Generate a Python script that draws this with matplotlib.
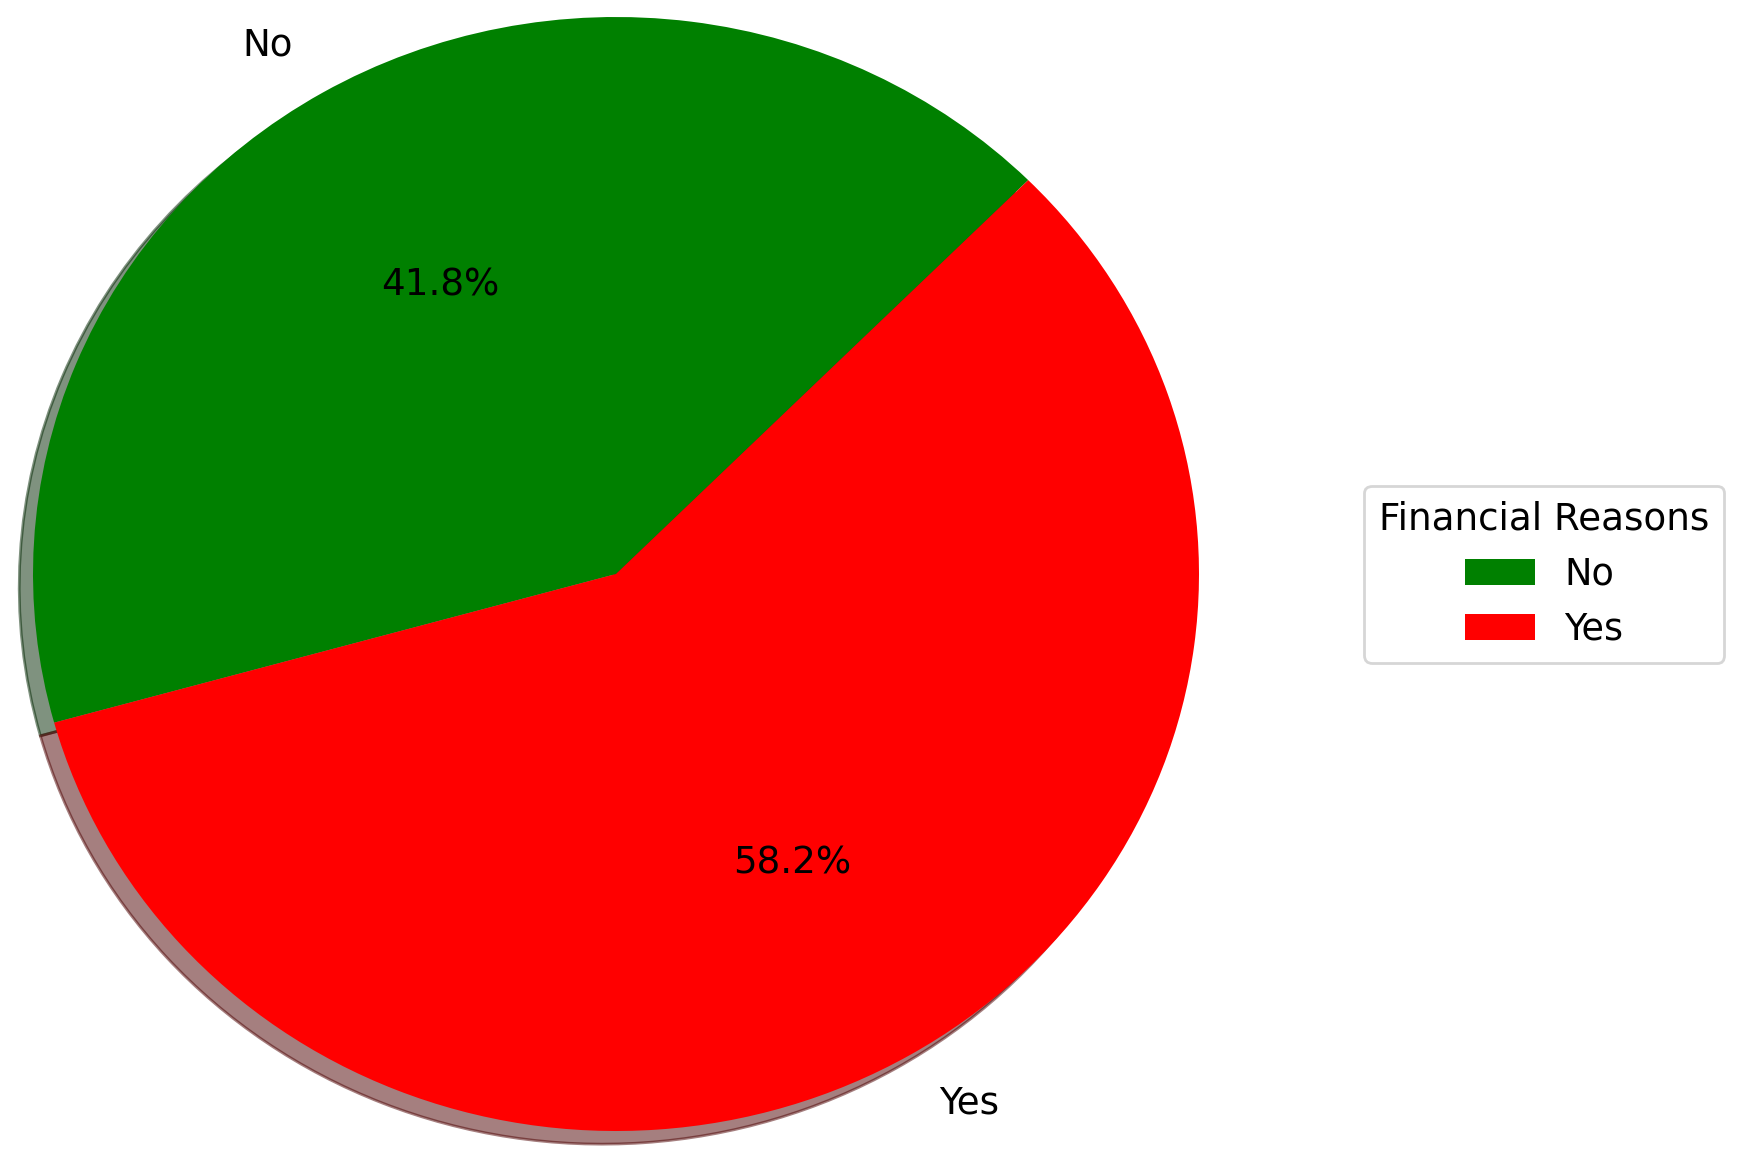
import matplotlib
matplotlib.use("Agg")
import matplotlib.pyplot as plt

labels = ["No", "Yes"]
values = [41.8, 58.2]
colors = ["green", "red"]
legend_title = "Financial Reasons"

fig = plt.figure(figsize=(8.7, 5.85), dpi=200)
cx, cy = 616 / 1740, (1170 - 574) / 1170
w = 2.5 * 583 / 1740
h = 2.5 * 557 / 1170
ax = fig.add_axes([cx - w / 2, cy - h / 2, w, h])
wedges, texts, autotexts = ax.pie(values, labels=labels, colors=colors,
                                  autopct="%1.1f%%", startangle=45,
                                  shadow={"ox": -0.0085, "oy": -0.0085},
                                  textprops={"fontsize": 13.4})
ax.set_aspect("auto")
ax.set_xlim(-1.25, 1.25)
ax.set_ylim(-1.25, 1.25)
for wdg in wedges:
    wdg.set_clip_on(False)

fig.legend(wedges, labels, title=legend_title, loc="center left",
           bbox_to_anchor=(1346 / 1740, cy), fontsize=13.2, title_fontsize=13.4,
           handlelength=1.9)
fig.savefig("out.png", dpi=200)
